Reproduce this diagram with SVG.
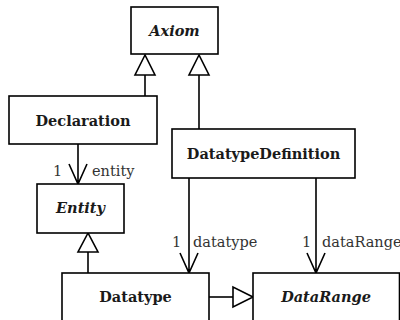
<svg xmlns="http://www.w3.org/2000/svg" width="400" height="320" viewBox="0 0 400 320">
<style>
.box{fill:#fff;stroke:#000;stroke-width:1.6}
.ln{fill:none;stroke:#000;stroke-width:1.6}
.tri{fill:#fff;stroke:#000;stroke-width:1.6;stroke-linejoin:miter}
.name{font-family:"DejaVu Serif","Liberation Serif",serif;font-weight:bold;font-size:14.5px;text-anchor:middle;fill:#1a1a1a}
.abs{font-style:italic}
.lbl{font-family:"DejaVu Serif","Liberation Serif",serif;font-size:14.5px;fill:#333}
</style>
<rect width="400" height="320" fill="#fff"/>
<g id="connectors">
  <!-- Declaration -> Axiom generalization -->
  <path class="ln" d="M145,96 V75"/>
  <path class="tri" d="M145,55 L135,75 H155 Z"/>
  <!-- DatatypeDefinition -> Axiom generalization -->
  <path class="ln" d="M199,129 V75"/>
  <path class="tri" d="M199,55 L189,75 H209 Z"/>
  <!-- Declaration -> Entity association -->
  <path class="ln" d="M78,144 V184 M69,164 L78,184 L87,164"/>
  <text class="lbl" x="53" y="176">1</text>
  <text class="lbl" x="92" y="176">entity</text>
  <!-- Datatype -> Entity generalization -->
  <path class="ln" d="M88,273 V252"/>
  <path class="tri" d="M88,233 L78,252 H98 Z"/>
  <!-- DatatypeDefinition -> Datatype -->
  <path class="ln" d="M189,178 V273 M180,253 L189,273 L198,253"/>
  <text class="lbl" x="172" y="247">1</text>
  <text class="lbl" x="193" y="247">datatype</text>
  <!-- DatatypeDefinition -> DataRange -->
  <path class="ln" d="M316,178 V273 M307,253 L316,273 L325,253"/>
  <text class="lbl" x="302" y="247">1</text>
  <text class="lbl" x="322" y="247">dataRange</text>
  <!-- Datatype -> DataRange generalization -->
  <path class="ln" d="M209,297 H233"/>
  <path class="tri" d="M253,297 L233,287 V307 Z"/>
</g>
<g id="Axiom">
  <rect class="box" x="131" y="7" width="87" height="47"/>
  <text class="name abs" x="174.5" y="36">Axiom</text>
</g>
<g id="Declaration">
  <rect class="box" x="9" y="96" width="148" height="48"/>
  <text class="name" x="83" y="126">Declaration</text>
</g>
<g id="DatatypeDefinition">
  <rect class="box" x="172" y="129" width="183" height="49"/>
  <text class="name" x="263.5" y="159">DatatypeDefinition</text>
</g>
<g id="Entity">
  <rect class="box" x="37" y="184" width="87" height="49"/>
  <text class="name abs" x="80.5" y="213">Entity</text>
</g>
<g id="Datatype">
  <rect class="box" x="62" y="273" width="147" height="60"/>
  <text class="name" x="135.5" y="302">Datatype</text>
</g>
<g id="DataRange">
  <rect class="box" x="253" y="273" width="146.5" height="60"/>
  <text class="name abs" x="326" y="302">DataRange</text>
</g>
</svg>
